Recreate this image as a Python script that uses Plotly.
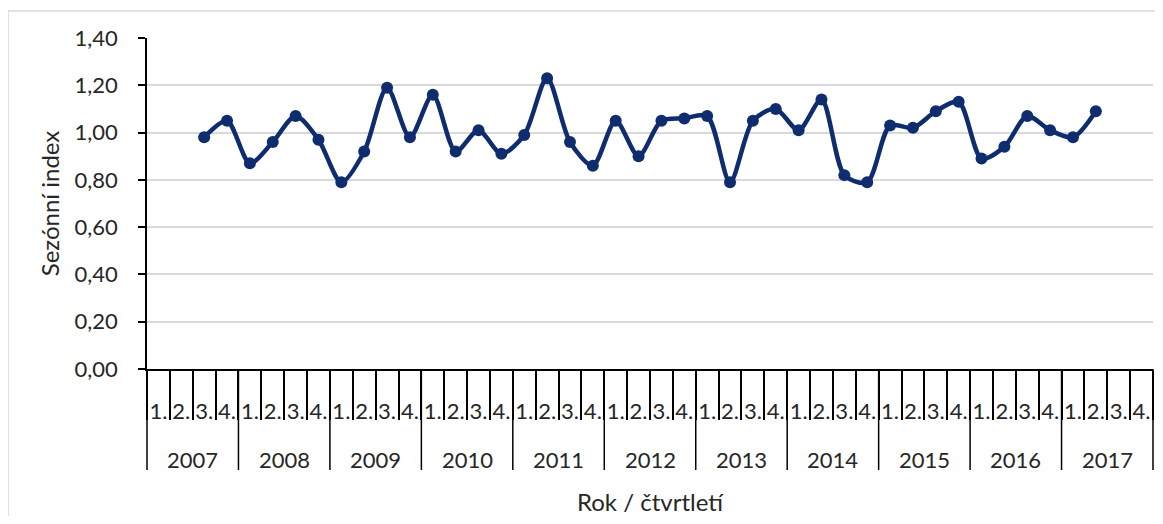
import plotly.graph_objects as go

# ---- data ----
years = [str(y) for y in range(2007, 2018)]
quarters = ["1.", "2.", "3.", "4."]
seasonal_index = [
    None, None, 0.98, 1.05,   # 2007
    0.87, 0.96, 1.07, 0.97,   # 2008
    0.79, 0.92, 1.19, 0.98,   # 2009
    1.16, 0.92, 1.01, 0.91,   # 2010
    0.99, 1.23, 0.96, 0.86,   # 2011
    1.05, 0.90, 1.05, 1.06,   # 2012
    1.07, 0.79, 1.05, 1.10,   # 2013
    1.01, 1.14, 0.82, 0.79,   # 2014
    1.03, 1.02, 1.09, 1.13,   # 2015
    0.89, 0.94, 1.07, 1.01,   # 2016
    0.98, 1.09, None, None,   # 2017
]
x_title = "Rok / čtvrtletí"
y_title = "Sezónní index"

categories = [f"{y} {q}" for y in years for q in quarters]
tick_text = [q for y in years for q in quarters]

FONT = "Lato, 'Open Sans', sans-serif"
TEXT = "#262626"
NAVY = "#0F2C6E"

# the page body adds an 8px margin, so the figure is 16px smaller
OFF = 8
W, H = 1163 - 2 * OFF, 524 - 2 * OFF
ML, MT = 147 - OFF, 38 - OFF
PLOT_R, PLOT_B = 1153 - OFF, 369 - OFF
MR, MB = W - PLOT_R, H - PLOT_B
PW, PH = W - ML - MR, H - MT - MB

fig = go.Figure(
    go.Scatter(
        x=categories,
        y=seasonal_index,
        mode="lines+markers",
        line=dict(color=NAVY, width=4.5, shape="spline", smoothing=0.8),
        marker=dict(color=NAVY, size=12),
        connectgaps=False,
        showlegend=False,
    )
)

fig.update_layout(
    width=W, height=H,
    margin=dict(l=ML, r=MR, t=MT, b=MB),
    paper_bgcolor="white", plot_bgcolor="white",
    separators=", ",
    font=dict(family=FONT, size=22, color=TEXT),
)

fig.update_xaxes(
    type="category",
    categoryorder="array", categoryarray=categories,
    tickmode="array", tickvals=categories, ticktext=tick_text,
    tickson="boundaries", ticks="outside", ticklen=49, tickwidth=1.5, tickcolor="black",
    tickangle=0, ticklabelstandoff=22,
    showline=True, linecolor="black", linewidth=1.5,
    showgrid=False, zeroline=False,
    range=[-0.5, len(categories) - 0.5],
    title=dict(text=x_title, font=dict(size=24, color=TEXT), standoff=71),
)

fig.update_yaxes(
    range=[0, 1.4], tick0=0, dtick=0.2, tickformat=".2f",
    ticks="outside", ticklen=7, tickwidth=1.5, tickcolor="black",
    ticklabelstandoff=16,
    showline=True, linecolor="black", linewidth=1.5,
    showgrid=True, gridcolor="#D9D9D9", gridwidth=1.5,
    zeroline=False,
    title=dict(text=y_title, font=dict(size=24, color=TEXT), standoff=8),
)

# year labels (second level of the category axis)
for k, yr in enumerate(years):
    fig.add_annotation(
        x=4 * k + 1.5, xref="x",
        y=-(459.5 - 369) / PH, yref="paper",
        yanchor="middle", xanchor="center",
        text=yr, showarrow=False,
        font=dict(size=22, color=TEXT, family=FONT),
    )

# year dividers
for k in range(len(years) + 1):
    fig.add_shape(
        type="line", xref="x domain", yref="paper",
        x0=k / len(years), x1=k / len(years),
        y0=0, y1=-(470 - 369) / PH,
        line=dict(color="black", width=1.5),
    )

# outer chart border
fig.add_shape(
    type="rect", xref="paper", yref="paper",
    x0=(8 - 147) / PW, x1=(1200 - 147) / PW,
    y0=-(560 - 369) / PH, y1=(369 - 11) / PH,
    line=dict(color="#D9D9D9", width=1.5), fillcolor="rgba(0,0,0,0)",
    layer="below",
)

fig.write_html("out.html")
